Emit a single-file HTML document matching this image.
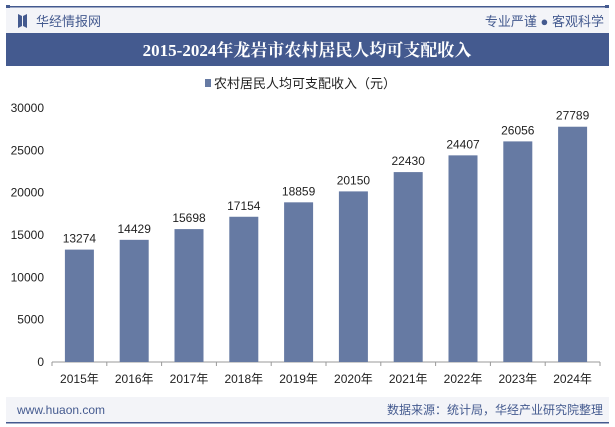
<!DOCTYPE html>
<html><head><meta charset="utf-8"><style>
body{margin:0;background:#fff;font-family:"Liberation Sans","Noto Sans CJK SC",sans-serif}
#c{position:relative;width:615px;height:427px;overflow:hidden}
</style></head><body>
<div id="c">
<svg width="615" height="427" xmlns="http://www.w3.org/2000/svg" id="s">
<rect x="6" y="7" width="603" height="26" fill="#f3f4f8"/>
<rect x="6" y="6" width="603" height="1.5" fill="#445a8f"/>
<rect x="6" y="5" width="4" height="3" fill="#445a8f"/><rect x="605" y="5" width="4" height="3" fill="#445a8f"/>
<path d="M18 14 L22 16 L22 26 L18 28 Z M27 14 L23 16 L23 26 L27 28 Z" fill="#445a8f"/>
<text x="36" y="26" font-size="13" fill="#445a8f">华经情报网</text>
<text x="604" y="26" font-size="13" fill="#445a8f" text-anchor="end">专业严谨 ● 客观科学</text>
<rect x="6" y="33" width="603" height="33" fill="#445a8f"/>
<text x="307" y="56" font-size="17" font-weight="bold" fill="#fff" text-anchor="middle" font-family="Liberation Serif,Noto Serif CJK SC,serif">2015-2024年龙岩市农村居民人均可支配收入</text>
<rect x="205" y="79" width="6" height="8" fill="#667aa3"/>
<text x="214" y="88" font-size="13" fill="#222">农村居民人均可支配收入（元）</text>
<g id="plot"></g>
<rect x="6" y="397" width="603" height="26" fill="#f3f4f8"/>
<rect x="6" y="422" width="603" height="1.5" fill="#445a8f"/>
<text x="17" y="414" font-size="12" fill="#445a8f">www.huaon.com</text>
<text x="603" y="414" font-size="12" fill="#445a8f" text-anchor="end">数据来源：统计局，华经产业研究院整理</text>
</svg>
</div>
<script>
const categories=["2015年","2016年","2017年","2018年","2019年","2020年","2021年","2022年","2023年","2024年"];
const values=[13274,14429,15698,17154,18859,20150,22430,24407,26056,27789];
const yTicks=[0,5000,10000,15000,20000,25000,30000];
const NS="http://www.w3.org/2000/svg";
const g=document.getElementById('plot');
const x0=52,x1=600,y0=362,yTop=108,yMax=30000;
const yS=v=>y0-(v/yMax)*(y0-yTop);
const step=(x1-x0)/categories.length;
const xC=i=>x0+step*(i+0.5);
function el(t,a,txt){const e=document.createElementNS(NS,t);for(const k in a)e.setAttribute(k,a[k]);if(txt!=null)e.textContent=txt;g.appendChild(e);return e;}
yTicks.forEach(v=>{const t=el('text',{x:x0-8,y:yS(v)+4,'font-size':12,fill:'#222','text-anchor':'end'},v);

});
const ax=el('line',{x1:x0,y1:y0,x2:x1,y2:y0,stroke:'#999'});


for(let i=0;i<=categories.length;i++){const tk=el('line',{x1:x0+step*i,y1:y0,x2:x0+step*i,y2:y0+4,stroke:'#999'});

}
categories.forEach((c,i)=>{
const b=el('rect',{x:xC(i)-14.5,y:yS(values[i]),width:29,height:y0-yS(values[i]),fill:'#667aa3'});


const l=el('text',{x:xC(i),y:yS(values[i])-7,'font-size':12,fill:'#222','text-anchor':'middle'},values[i]);


const xl=el('text',{x:xC(i),y:383,'font-size':12,fill:'#222','text-anchor':'middle'},c);


});
</script>
</body></html>
